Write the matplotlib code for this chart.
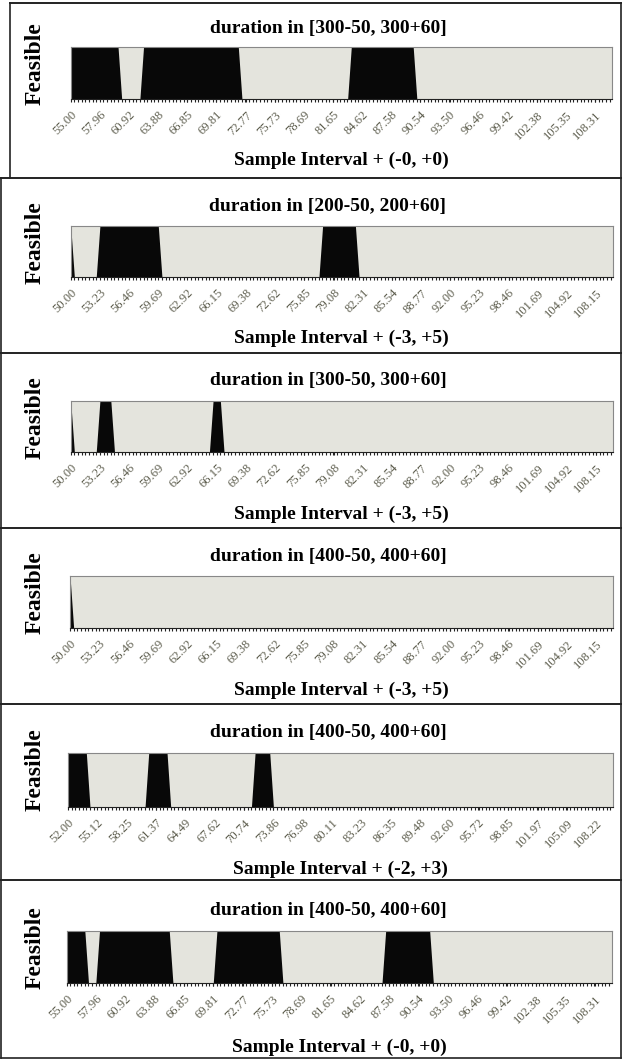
import numpy as np
import matplotlib
matplotlib.use('Agg')
import matplotlib.pyplot as plt
from matplotlib.lines import Line2D

plt.rcParams['font.family'] = ['Liberation Serif', 'DejaVu Serif']

W, H = 622, 1060

# --- data ----------------------------------------------------------------
titles = ['duration in [300-50, 300+60]',
          'duration in [200-50, 200+60]',
          'duration in [300-50, 300+60]',
          'duration in [400-50, 400+60]',
          'duration in [400-50, 400+60]',
          'duration in [400-50, 400+60]']

xlabels = ['Sample Interval + (-0, +0)',
           'Sample Interval + (-3, +5)',
           'Sample Interval + (-3, +5)',
           'Sample Interval + (-3, +5)',
           'Sample Interval + (-2, +3)',
           'Sample Interval + (-0, +0)']

ticks_55 = ['55.00', '57.96', '60.92', '63.88', '66.85', '69.81', '72.77',
            '75.73', '78.69', '81.65', '84.62', '87.58', '90.54', '93.50',
            '96.46', '99.42', '102.38', '105.35', '108.31']
ticks_50 = ['50.00', '53.23', '56.46', '59.69', '62.92', '66.15', '69.38',
            '72.62', '75.85', '79.08', '82.31', '85.54', '88.77', '92.00',
            '95.23', '98.46', '101.69', '104.92', '108.15']
ticks_52 = ['52.00', '55.12', '58.25', '61.37', '64.49', '67.62', '70.74',
            '73.86', '76.98', '80.11', '83.23', '86.35', '89.48', '92.60',
            '95.72', '98.85', '101.97', '105.09', '108.22']
tick_sets = [ticks_55, ticks_50, ticks_50, ticks_50, ticks_52, ticks_55]

x_max = 110.0

# feasible runs: (first, last) sample interval where Feasible = 1
runs_1 = [(55.00, 59.81), (62.40, 72.03), (83.51, 89.80)]
runs_2 = [(50.00, 50.00), (53.23, 59.69), (77.87, 81.50)]
runs_3 = [(50.00, 50.00), (53.23, 54.44), (65.75, 66.56)]
runs_4 = [(50.00, 50.00)]
runs_5 = [(52.00, 53.95), (60.59, 62.54), (71.91, 73.47)]
runs_6 = [(55.00, 56.85), (58.33, 65.37), (70.18, 76.47), (87.21, 91.65)]
all_runs = [runs_1, runs_2, runs_3, runs_4, runs_5, runs_6]

# --- layout (pixels) -------------------------------------------------------
panel_top = [3, 178, 353, 528, 704, 880]
panel_left = [10, 1, 1, 1, 1, 1]
plot_top = [47, 226, 401, 576, 753, 931]
plot_bot = [99, 277, 452, 628, 807, 983]
plot_left = [70.7, 70.7, 70.7, 70, 68, 66.5]
plot_right = [612, 613, 613, 613, 613, 611.5]
title_y = [28, 206, 381, 557, 733, 911]
xlabel_y = [160, 338, 514, 690, 869, 1047]

fig = plt.figure(figsize=(W / 100, H / 100), dpi=100)
fig.patch.set_facecolor('white')


def fx(px):
    return px / W


def fy(py):
    return 1 - py / H


for i in range(6):
    labels = tick_sets[i]
    pos = [float(t) for t in labels]
    lo = pos[0]
    step = (pos[1] - pos[0]) / 8

    ax = fig.add_axes([fx(plot_left[i]), fy(plot_bot[i]),
                       fx(plot_right[i] - plot_left[i]),
                       (plot_bot[i] - plot_top[i]) / H])
    ax.set_facecolor('#e4e4dd')

    xs, ys = [], []
    for a, b in all_runs[i]:
        xs += [a - step, a, b, b + step]
        ys += [0, 1, 1, 0]
    ax.fill_between(xs, ys, 0, color='#080808', lw=0)

    ax.set_xlim(lo, x_max)
    ax.set_ylim(0, 1)
    ax.set_yticks([])
    ax.set_xticks(pos)
    ax.set_xticklabels(labels, rotation=45, ha='right', va='top',
                       rotation_mode='anchor', fontsize=9, color='#5c5c4c')
    ax.set_xticks(np.arange(lo, x_max, step), minor=True)
    ax.tick_params(axis='x', which='both', direction='out', length=2.2,
                   width=0.8, color='#222222', pad=5)
    for s in ax.spines.values():
        s.set_color('#888888')
        s.set_linewidth(0.8)
    ax.spines['bottom'].set_color('#222222')

    fig.text(fx(328), fy(title_y[i]), titles[i], ha='center', va='center',
             fontsize=14, fontweight='bold')
    fig.text(fx((plot_left[i] + plot_right[i]) / 2), fy(xlabel_y[i]),
             xlabels[i], ha='center', va='center', fontsize=14,
             fontweight='bold')
    fig.text(fx(35), fy(plot_top[i] + 17), 'Feasible',
             ha='center', va='center', rotation=90, fontsize=17,
             fontweight='bold')

# panel frames
for i in range(6):
    bottom = panel_top[i + 1] if i < 5 else 1058
    x0 = fx(panel_left[i])
    fig.add_artist(Line2D([x0, fx(621)], [fy(panel_top[i])] * 2,
                          color='#222222', lw=1.4))
    fig.add_artist(Line2D([x0, x0], [fy(panel_top[i]), fy(bottom)],
                          color='#222222', lw=1.2))
fig.add_artist(Line2D([fx(1), fx(621)], [fy(1058)] * 2, color='#222222', lw=1.2))
fig.add_artist(Line2D([fx(621), fx(621)], [fy(3), fy(1058)], color='#222222', lw=1.2))

fig.savefig('out.png', dpi=100)
